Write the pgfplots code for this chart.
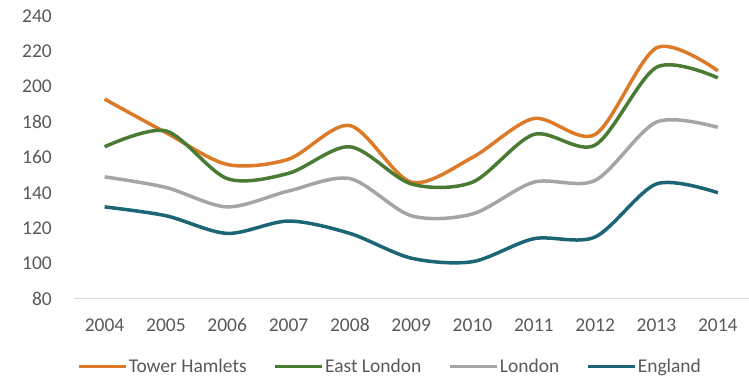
\documentclass[border=0pt]{standalone}
\usepackage{pgfplots}
\pgfplotsset{compat=1.18}
\usepackage{fontspec}
\setmainfont{Carlito}
\definecolor{cTH}{HTML}{DD7A28}
\definecolor{cEL}{HTML}{4A7B33}
\definecolor{cLO}{HTML}{A5A5A5}
\definecolor{cEN}{HTML}{1B6574}
\definecolor{cTxt}{HTML}{595959}
\definecolor{cAx}{HTML}{D9D9D9}
\begin{document}
\begin{tikzpicture}
\begin{axis}[
  scale only axis, width=675bp, height=283bp,
  xmin=2003.5, xmax=2014.5, ymin=80, ymax=240,
  xtick={2004,...,2014}, ytick={80,100,...,240},
  axis x line*=bottom, axis y line*=left,
  y axis line style={draw=none},
  x axis line style={draw=cAx, line width=1bp},
  major tick length=0pt,
  /pgf/number format/1000 sep={},
  /pgf/number format/assume math mode=true,
  tick label style={font=\fontsize{19.5bp}{23bp}\selectfont, text=cTxt},
  xticklabel style={anchor=base, inner sep=0pt, yshift=-33bp},
  yticklabel style={anchor=east, inner sep=0pt, xshift=-22bp},
  legend columns=4,
  legend style={draw=none, fill=none, at={(0.468,-0.24)}, anchor=center,
    font=\fontsize{19.5bp}{23bp}\selectfont, text=cTxt,
    /tikz/every even column/.append style={column sep=26bp},
    inner sep=0pt, nodes={inner sep=1bp}},
  legend image code/.code={\draw[#1, line width=3.5bp] (0bp,0bp) -- (47bp,0bp);},
  every axis plot/.append style={line width=3.5bp, smooth, tension=0.5},
]
\addplot[cTH] coordinates {(2004,193) (2005,174) (2006,156) (2007,159) (2008,178) (2009,146) (2010,160) (2011,182) (2012,173) (2013,222) (2014,209)};
\addplot[cEL] coordinates {(2004,166) (2005,175) (2006,148) (2007,151) (2008,166) (2009,145) (2010,146) (2011,173) (2012,167) (2013,211) (2014,205)};
\addplot[cLO] coordinates {(2004,149) (2005,143) (2006,132) (2007,141) (2008,148) (2009,127) (2010,128) (2011,146) (2012,147) (2013,180) (2014,177)};
\addplot[cEN] coordinates {(2004,132) (2005,127) (2006,117) (2007,124) (2008,117) (2009,103) (2010,101) (2011,114) (2012,115) (2013,145) (2014,140)};
\legend{Tower Hamlets, East London, London, England}
\end{axis}
\path ([shift={(-74bp,-80bp)}]current axis.south west) rectangle ([shift={(0bp,16bp)}]current axis.north east);
\end{tikzpicture}
\end{document}
